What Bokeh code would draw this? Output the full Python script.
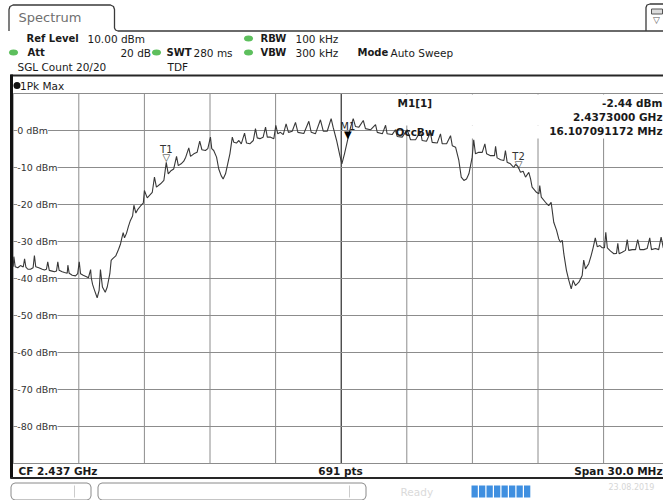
from bokeh.plotting import figure
from bokeh.models import Range1d
from bokeh.embed import file_html
from bokeh.resources import INLINE
from bokeh.core.properties import value

# ---------------- data ----------------
center_ghz = 2.437
span_mhz = 30.0
sweep_points = 691
ref_level_dbm = 10.0
div_db = 10.0
n_div = 10

freq_ghz = [
    2.42200, 2.42203, 2.42209, 2.42221, 2.42233, 2.42246, 2.42252, 2.42258, 2.42267, 2.42279,
    2.42291, 2.42297, 2.42303, 2.42317, 2.42333, 2.42343, 2.42352, 2.42358, 2.42365, 2.42378,
    2.42389, 2.42398, 2.42404, 2.42410, 2.42424, 2.42435, 2.42447, 2.42450, 2.42456, 2.42470,
    2.42485, 2.42495, 2.42502, 2.42508, 2.42520, 2.42535, 2.42544, 2.42554, 2.42557, 2.42563,
    2.42572, 2.42584, 2.42593, 2.42599, 2.42608, 2.42621, 2.42630, 2.42642, 2.42648, 2.42654,
    2.42669, 2.42682, 2.42691, 2.42697, 2.42703, 2.42709, 2.42718, 2.42727, 2.42736, 2.42746,
    2.42752, 2.42761, 2.42770, 2.42785, 2.42795, 2.42800, 2.42813, 2.42836, 2.42846, 2.42855,
    2.42874, 2.42889, 2.42900, 2.42909, 2.42923, 2.42934, 2.42947, 2.42955, 2.42968, 2.42980,
    2.42989, 2.43003, 2.43011, 2.43026, 2.43041, 2.43053, 2.43063, 2.43079, 2.43090, 2.43102,
    2.43108, 2.43117, 2.43130, 2.43140, 2.43151, 2.43160, 2.43171, 2.43181, 2.43191, 2.43202,
    2.43209, 2.43221, 2.43232, 2.43243, 2.43258, 2.43267, 2.43282, 2.43298, 2.43308, 2.43316,
    2.43328, 2.43343, 2.43354, 2.43362, 2.43377, 2.43392, 2.43401, 2.43410, 2.43422, 2.43435,
    2.43448, 2.43459, 2.43476, 2.43491, 2.43502, 2.43529, 2.43552, 2.43563, 2.43582, 2.43605,
    2.43618, 2.43636, 2.43654, 2.43663, 2.43679, 2.43694, 2.43703, 2.43715, 2.43730, 2.43743,
    2.43755, 2.43765, 2.43781, 2.43801, 2.43811, 2.43834, 2.43857, 2.43865, 2.43888, 2.43903,
    2.43910, 2.43933, 2.43948, 2.43956, 2.43979, 2.44002, 2.44017, 2.44040, 2.44063, 2.44070,
    2.44090, 2.44108, 2.44116, 2.44139, 2.44154, 2.44162, 2.44182, 2.44200, 2.44208, 2.44223,
    2.44238, 2.44249, 2.44261, 2.44273, 2.44284, 2.44299, 2.44306, 2.44314, 2.44329, 2.44345,
    2.44357, 2.44365, 2.44383, 2.44401, 2.44406, 2.44413, 2.44429, 2.44444, 2.44451, 2.44459,
    2.44474, 2.44489, 2.44497, 2.44508, 2.44520, 2.44532, 2.44543, 2.44558, 2.44566, 2.44573,
    2.44593, 2.44604, 2.44608, 2.44615, 2.44634, 2.44649, 2.44660, 2.44665, 2.44672, 2.44685,
    2.44695, 2.44703, 2.44711, 2.44718, 2.44730, 2.44741, 2.44752, 2.44761, 2.44771, 2.44787,
    2.44802, 2.44809, 2.44817, 2.44832, 2.44843, 2.44852, 2.44862, 2.44871, 2.44883, 2.44894,
    2.44904, 2.44910, 2.44917, 2.44932, 2.44947, 2.44959, 2.44965, 2.44971, 2.44985, 2.45000,
    2.45008, 2.45015, 2.45031, 2.45046, 2.45056, 2.45066, 2.45084, 2.45099, 2.45111, 2.45119,
    2.45137, 2.45152, 2.45163, 2.45173, 2.45200,
]

level_dbm = [
    -36.8, -34.1, -36.8, -37.1, -36.5, -36.9, -34.7, -36.9, -37.5, -37.5,
    -37.1, -33.8, -36.8, -37.1, -37.5, -37.7, -37.5, -35.5, -37.8, -38.0,
    -38.2, -38.0, -35.5, -37.8, -38.2, -38.4, -38.6, -36.4, -38.6, -39.1,
    -39.3, -38.7, -35.5, -38.7, -39.1, -39.5, -39.8, -37.6, -39.8, -41.6,
    -43.2, -45.2, -43.2, -37.6, -42.3, -43.7, -42.3, -38.7, -35.1, -34.7,
    -33.9, -32.1, -30.6, -29.0, -27.6, -29.0, -27.8, -25.9, -24.3, -23.1,
    -20.2, -22.3, -21.3, -20.2, -19.6, -16.2, -18.2, -16.7, -12.6, -15.3,
    -14.4, -13.5, -8.6, -11.7, -10.8, -10.4, -7.0, -9.5, -9.0, -8.3,
    -7.2, -4.7, -7.0, -6.3, -5.9, -2.9, -5.2, -5.4, -4.9, -1.8,
    -4.9, -5.4, -7.2, -10.4, -12.2, -13.1, -11.7, -9.0, -6.3, -1.8,
    -3.2, -3.4, -2.7, -3.6, -0.7, -3.4, -3.6, -2.7, 0.5, -2.0,
    -2.2, -1.8, 0.9, -1.8, -1.8, -2.2, 1.4, -0.9, -0.5, -1.1,
    1.8, -0.5, -0.2, 2.2, -0.5, -0.8, 2.5, -0.5, -0.9, 2.9,
    -0.2, -0.2, 3.2, 0.9, -2.7, -6.8, -9.0, -6.3, -2.4, 0.9,
    3.2, 1.1, 0.9, 2.7, 0.5, 0.2, 1.6, -0.5, -0.9, 1.4,
    -0.9, -1.1, 0.2, -1.6, -1.8, 0.2, -2.5, -2.5, -0.2, -2.7,
    -2.9, -0.5, -3.2, -3.4, -0.9, -3.6, -3.6, -1.4, -4.1, -4.5,
    -8.1, -12.6, -13.5, -13.1, -11.7, -7.2, -2.5, -6.3, -5.9, -5.9,
    -3.6, -6.3, -6.8, -6.8, -4.3, -7.4, -7.9, -8.1, -5.4, -8.6,
    -9.0, -10.0, -9.2, -9.7, -11.3, -11.0, -12.6, -11.3, -13.1, -15.3,
    -16.7, -17.1, -14.9, -18.0, -19.4, -20.3, -19.4, -21.6, -24.8, -27.0,
    -29.3, -30.2, -29.7, -33.3, -37.8, -40.5, -42.8, -40.5, -41.9, -41.0,
    -39.2, -35.0, -37.4, -36.0, -33.8, -31.7, -29.0, -31.4, -31.1, -31.7,
    -31.7, -27.5, -31.7, -32.6, -33.3, -33.2, -30.5, -33.3, -32.9, -32.4,
    -29.5, -32.4, -32.2, -32.2, -29.5, -32.2, -32.2, -31.9, -29.0, -32.2,
    -31.9, -32.2, -28.8, -31.7, -32.0,
]
assert len(freq_ghz) == len(level_dbm)

m1_freq_ghz = 2.4373
m1_level_dbm = -2.44
obw_mhz = 16.107091172
t1_freq_ghz = 2.42900
t1_level_dbm = -8.8
t2_freq_ghz = 2.44511
t2_level_dbm = -10.8

# ---------------- layout constants ----------------
W, H = 663, 500
GRID_LEFT = 12.7     # px of sweep start
GRID_WIDTH = 656.0   # px per full span
GRID_TOP = 93.0      # px of reference level line
GRID_HEIGHT = 370.0  # px for 10 divisions

span_ghz = span_mhz / 1000.0
f_start = center_ghz - span_ghz / 2
f_stop = center_ghz + span_ghz / 2
x_ticks = [f_start + i * span_ghz / n_div for i in range(n_div + 1)]
y_ticks = [ref_level_dbm - i * div_db for i in range(n_div + 1)]
y_floor = y_ticks[-1]

px_per_ghz = GRID_WIDTH / span_ghz
px_per_db = GRID_HEIGHT / (div_db * n_div)
x_range = Range1d(f_start - GRID_LEFT / px_per_ghz, f_start + (W - GRID_LEFT) / px_per_ghz)
y_range = Range1d(y_floor - (H - GRID_TOP - GRID_HEIGHT) / px_per_db,
                  ref_level_dbm + GRID_TOP / px_per_db)

FONT = value("DejaVu Sans")
TXT = "#1a1a1a"
GREEN = "#5dbf5d"
BOLD_LBL = 10.0

p = figure(width=W, height=H, x_range=x_range, y_range=y_range,
           output_backend="svg", toolbar_location=None,
           x_axis_location=None, y_axis_location=None,
           min_border=0, outline_line_color=None,
           background_fill_color="white", border_fill_color="white")
p.grid.visible = False
p.extra_x_ranges = {"px": Range1d(0, W)}
p.extra_y_ranges = {"py": Range1d(H, 0)}
PX = dict(x_range_name="px", y_range_name="py")


def ptext(x, y, s, size=10.5, bold=False, color=TXT, align="left"):
    p.text(x=[x], y=[y], text=[s], text_font=FONT, text_font_size=f"{size}px",
           text_font_style="bold" if bold else "normal", text_color=color,
           text_align=align, text_baseline="middle", **PX)


def pline(xs, ys, color="#2a2a2a", width=1.0):
    p.line(x=xs, y=ys, line_color=color, line_width=width, **PX)


def pbox(l, r, t, b, fill="white", line=None, lw=1.0):
    p.quad(left=[l], right=[r], top=[t], bottom=[b], fill_color=fill,
           line_color=line, line_width=lw, **PX)


def pdot(x, y, w, h, color):
    p.ellipse(x=[x], y=[y], width=w, height=h, fill_color=color, line_color=None, **PX)


# ---------------- tab / header ----------------
pline([8.5, 8.5, 9.5, 12.5, 110, 113, 114, 114, 115, 117.5, 645.5],
      [30.5, 9, 6, 4.5, 4.5, 6, 9, 27.5, 29.5, 30.5, 30.5], "#3a3a3a", 1.3)
pline([645.5, 663], [30.5, 30.5], "#3a3a3a", 1.3)
pline([645.5, 645.5, 646.5, 649.5, 663], [30.5, 7, 4.5, 3.5, 3.5], "#3a3a3a", 1.3)
pbox(651, 662, 13.5, 8.5, fill="#dcdcdc", line="#555555", lw=1)
ptext(656, 19.5, "▽", size=9, color="#555555", align="center")
ptext(18, 17, "Spectrum", size=13, color="#6f6f6f")

ptext(26, 38, "Ref Level", bold=True, size=BOLD_LBL)
ptext(87, 38, f"{ref_level_dbm:.2f} dBm")
pdot(248, 38, 9, 6, GREEN)
ptext(260, 38, "RBW", bold=True, size=BOLD_LBL)
ptext(295, 38, "100 kHz")

pdot(13, 52, 9, 6, GREEN)
ptext(27, 52, "Att", bold=True, size=BOLD_LBL)
ptext(150.5, 52, "20 dB", align="right")
pdot(156, 52, 9, 6, GREEN)
ptext(166, 52, "SWT", bold=True, size=BOLD_LBL)
ptext(193, 52, "280 ms")
pdot(248, 52, 9, 6, GREEN)
ptext(260, 52, "VBW", bold=True, size=BOLD_LBL)
ptext(295, 52, "300 kHz")
ptext(357, 52, "Mode", bold=True, size=BOLD_LBL)
ptext(390, 52, "Auto Sweep")

ptext(17, 66, "SGL Count 20/20")
ptext(167, 66, "TDF")

# ---------------- grid ----------------
grid_cols = ["#000000" if abs(f - center_ghz) < 1e-9 else "#8c8c8c" for f in x_ticks]
p.segment(x0=x_ticks, y0=[y_floor] * len(x_ticks), x1=x_ticks, y1=[ref_level_dbm] * len(x_ticks),
          line_color=grid_cols, line_width=1)
p.segment(x0=[f_start] * len(y_ticks), y0=y_ticks, x1=[f_stop] * len(y_ticks), y1=y_ticks,
          line_color="#8c8c8c", line_width=1)

label_ticks = y_ticks[1:-1]
p.text(x=[f_start] * len(label_ticks), y=label_ticks,
       text=[f"{int(v)} dBm" for v in label_ticks],
       x_offset=4, text_baseline="middle", text_align="left",
       text_font=FONT, text_font_size="9.5px", text_color="#333333",
       background_fill_color="white")

# readout area background
pbox(393, 663, 94, 125)
pbox(409, 663, 125, 138)

# ---------------- frame box ----------------
pline([10, 663], [75, 75], "#262626", 2)
pbox(9.5, 12.5, 74, 478, fill="#111111")
pline([10, 663], [477.5, 477.5], "#262626", 2)

pdot(16.5, 85, 7, 7, "#111111")
ptext(19.5, 85, "1Pk Max", size=10.5)

# ---------------- trace ----------------
p.line(freq_ghz, level_dbm, line_color="#383838", line_width=1.1)

# markers
mk = dict(text_font=FONT, text_align="center", text_baseline="bottom")
p.text(x=[m1_freq_ghz], y=[m1_level_dbm], text=["▼"], text_font_size="10px",
       text_color="black", **mk)
p.text(x=[m1_freq_ghz], y=[m1_level_dbm], text=["M1"], text_font_size="10px",
       text_color="#222222", y_offset=-8, **mk)
p.text(x=[t1_freq_ghz, t2_freq_ghz], y=[t1_level_dbm, t2_level_dbm], text=["▽", "▽"],
       text_font_size="10px", text_color="#333333", **mk)
p.text(x=[t1_freq_ghz, t2_freq_ghz], y=[t1_level_dbm, t2_level_dbm], text=["T1", "T2"],
       text_font_size="10px", text_color="#333333", y_offset=-8, **mk)

# readout texts
ptext(397, 102, "M1[1]", bold=True)
ptext(662, 102, f"{m1_level_dbm:.2f} dBm", bold=True, align="right")
ptext(662, 116, f"{m1_freq_ghz:.7f} GHz", bold=True, align="right")
ptext(662, 130, f"{obw_mhz:.9f} MHz", bold=True, align="right")
ptext(395, 131, "OccBw", bold=True)

# ---------------- footer ----------------
ptext(18, 470, f"CF {center_ghz:.3f} GHz", bold=True)
ptext(340, 470, f"{sweep_points} pts", bold=True, align="center")
ptext(662, 470, f"Span {span_mhz:.1f} MHz", bold=True, align="right")

# status bar
def rounded(l, r, t, b, color):
    pline([l, l, l + 1.2, l + 4, r - 4, r - 1.2, r, r, r - 1.2, r - 4, l + 4, l + 1.2, l],
          [t + 4, b - 4, b - 1.2, b, b, b - 1.2, b - 4, t + 4, t + 1.2, t, t, t + 1.2, t + 4],
          color, 1)

rounded(10.5, 90.5, 482.5, 499.5, "#8a8a8a")
pline([74, 74], [485, 497], "#cccccc", 1)
rounded(97.5, 365.5, 482.5, 499.5, "#8a8a8a")
pline([349, 349], [485, 497], "#cccccc", 1)
seg_w = 7.5
for i in range(8):
    pbox(471 + i * seg_w, 471 + i * seg_w + 6.3, 485, 497, fill="#3f8fe0")
ptext(400, 491, "Ready", color="#dadada")
ptext(608, 486, "23.08.2019", size=8, color="#d6d6d6")

open("out.html", "w").write(file_html(p, INLINE))
